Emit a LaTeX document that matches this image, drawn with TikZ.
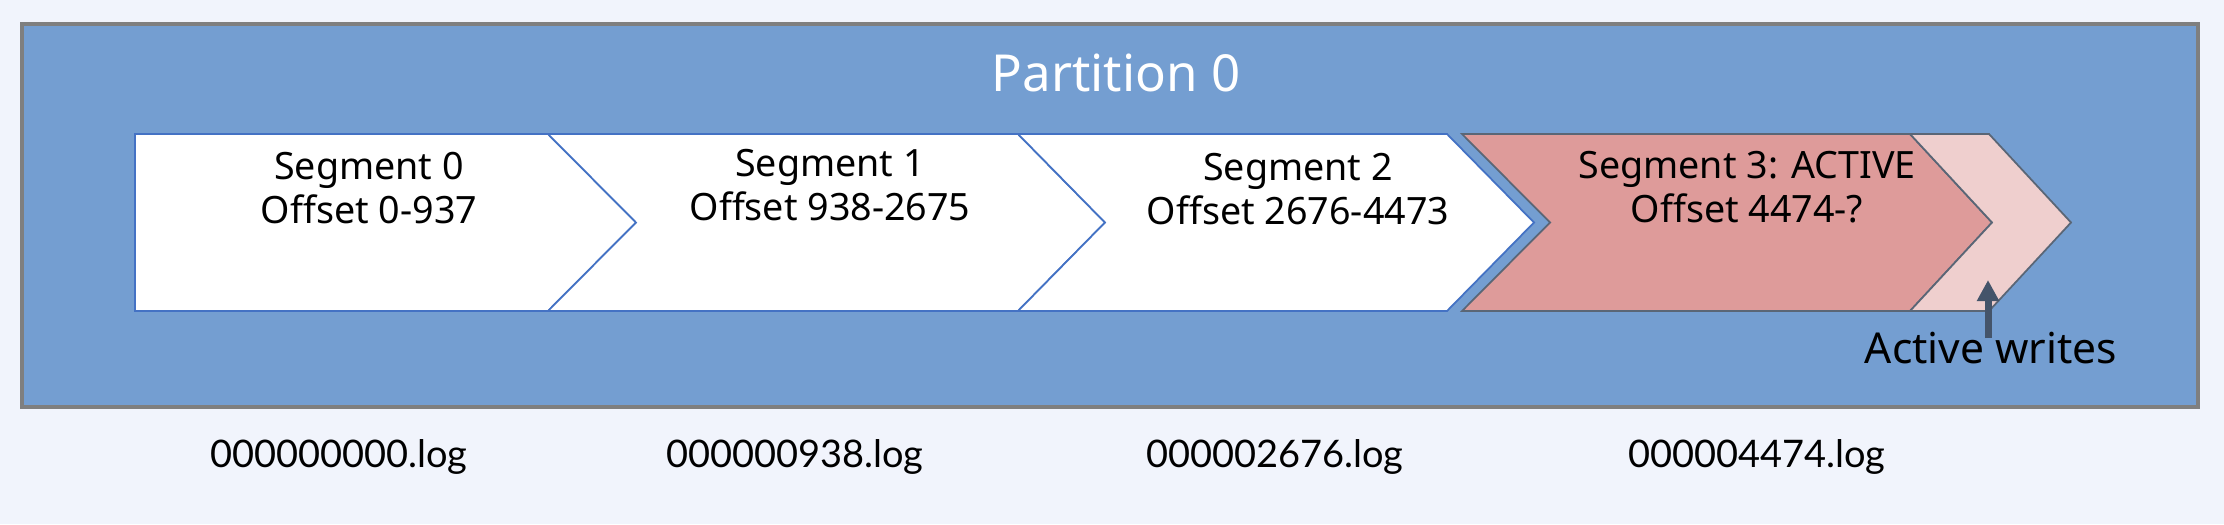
\documentclass[tikz,border=0pt]{standalone}
\usepackage{fontspec}
\setmainfont{Noto Sans}
\newfontfamily\logfont{Lato}
\usepackage{tikz}
\usetikzlibrary{arrows.meta}

\definecolor{pagebg}{RGB}{241,244,252}
\definecolor{partblue}{RGB}{116,158,209}
\definecolor{partline}{RGB}{127,127,127}
\definecolor{segline}{RGB}{68,114,196}
\definecolor{actpink}{RGB}{222,155,154}
\definecolor{nextpink}{RGB}{239,207,206}
\definecolor{actline}{RGB}{90,102,118}
\definecolor{arrowgray}{RGB}{68,84,106}

\begin{document}
\begin{tikzpicture}[
        x=0.01cm, y=-0.01cm,
        partbox/.style={draw=partline, fill=partblue, line width=1pt},
        segwhite/.style={draw=segline, fill=white, line width=0.5pt},
        segactive/.style={draw=actline, fill=actpink, line width=0.5pt},
        segnext/.style={draw=actline, fill=nextpink, line width=0.5pt},
        segtext/.style={align=center, inner sep=0pt, font=\fontsize{10.7}{12.5}\selectfont},
        titletext/.style={anchor=base, inner sep=0pt, text=white, font=\fontsize{14.5}{17}\selectfont},
        writetext/.style={anchor=base, inner sep=0pt, font=\fontsize{12.1}{14}\selectfont},
        logtext/.style={anchor=base, inner sep=0pt, font=\logfont\fontsize{10.8}{13}\selectfont},
        writearrow/.style={draw=arrowgray, line width=2pt, -{Triangle[length=6pt, width=6pt]}}
    ]

    % Background and partition
    \fill [pagebg] (0,0) rectangle (2224,524);
    \useasboundingbox (0,0) rectangle (2224,524);
    \draw [partbox] (22,24) rectangle (2198,407);

    % Segment shapes
    \draw [segwhite] (135,134) -- (548,134) -- (636,222.5) -- (548,311) -- (135,311) -- cycle;
    \draw [segwhite] (548,134) -- (1018,134) -- (1105,222.5) -- (1018,311) -- (548,311) -- (636,222.5) -- cycle;
    \draw [segwhite] (1018,134) -- (1447,134) -- (1534,222.5) -- (1447,311) -- (1018,311) -- (1105,222.5) -- cycle;
    \draw [segactive] (1462,134) -- (1910,134) -- (1992,222.5) -- (1910,311) -- (1462,311) -- (1550,222.5) -- cycle;
    \draw [segnext] (1910,134) -- (1989,134) -- (2071,222.5) -- (1989,311) -- (1910,311) -- (1992,222.5) -- cycle;

    % Nodes
    \node (title) [titletext] at (1116,91) {Partition 0};
    \node (seg0) [segtext] at (369,188) {Segment 0\\Offset 0-937};
    \node (seg1) [segtext] at (830,185) {Segment 1\\Offset 938-2675};
    \node (seg2) [segtext] at (1298,189) {Segment 2\\Offset 2676-4473};
    \node (seg3) [segtext] at (1747,187) {Segment 3: ACTIVE\\Offset 4474-?};
    \node (writes) [writetext] at (1991,363) {Active writes};

    \node (log0) [logtext] at (339,467) {000000000.log};
    \node (log1) [logtext] at (795,467) {000000938.log};
    \node (log2) [logtext] at (1275,467) {000002676.log};
    \node (log3) [logtext] at (1757,467) {000004474.log};

    % Arrows
    \coordinate (wtail) at (1988,338);
    \coordinate (whead) at (1988,280);
    \draw [writearrow] (wtail) -- (whead);

\end{tikzpicture}
\end{document}
